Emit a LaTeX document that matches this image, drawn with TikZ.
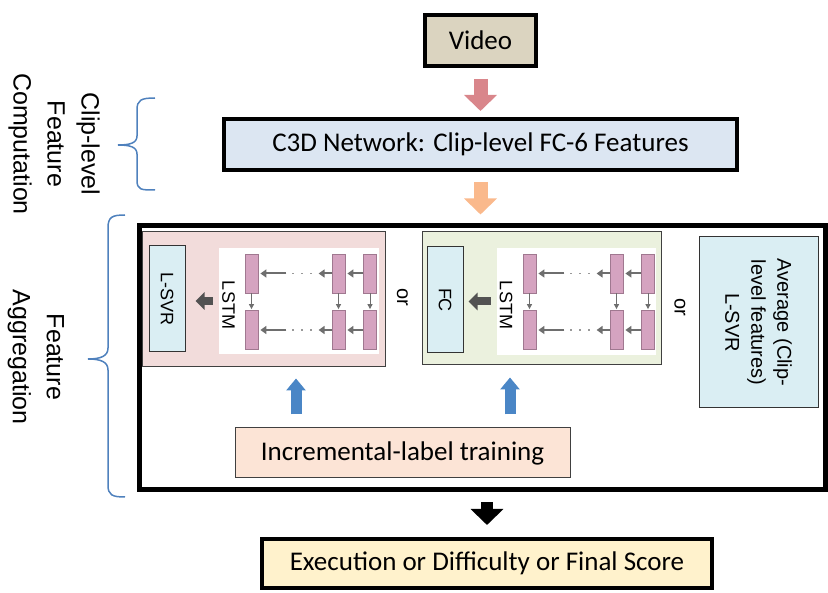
\documentclass[tikz,border=0pt]{standalone}
\usepackage{fontspec}
\setmainfont{Carlito}
\newfontfamily\arialf{Liberation Sans}
\usetikzlibrary{arrows.meta,calc}

\definecolor{videocol}{HTML}{DBD4C0}
\definecolor{c3dcol}{HTML}{DCE6F2}
\definecolor{pinkarrowcol}{HTML}{D9868B}
\definecolor{orangearrowcol}{HTML}{FAB98C}
\definecolor{pinkpanelcol}{HTML}{F2DCDB}
\definecolor{greenpanelcol}{HTML}{EBF1DE}
\definecolor{clfcol}{HTML}{DAEEF3}
\definecolor{inccol}{HTML}{FCE4D6}
\definecolor{finalcol}{HTML}{FFF2CC}
\definecolor{bluearrowcol}{HTML}{4A86C6}
\definecolor{bracecol}{HTML}{4F81BD}
\definecolor{cellcol}{HTML}{D5A3C0}
\definecolor{celllinecol}{HTML}{A07890}
\definecolor{cellgraycol}{HTML}{6E6E6E}

% two-layer LSTM grid: #1 name prefix, #2 left edge of its white area
\newcommand\lstmgrid[2]{%
  \foreach \c/\dx in {1/32.5, 2/119.5, 3/151}{%
    \node[cell] (#1a\c) at (#2+\dx, 273.5) {};
    \node[cell] (#1b\c) at (#2+\dx, 330) {};
    \draw[cellvarrow] (#1a\c.south) -- (#1b\c.north);
  }%
  \foreach \r in {a,b}{%
    \draw[cellarrow] (#1\r3.west) -- (#1\r2.east);
    \draw[cellarrow] (#1\r2.west) -- ++(-15,0);
    \draw[celldots] ($(#1\r2.west)+(-20,0)$) -- ($(#1\r1.east)+(31,0)$);
    \draw[cellarrow] ($(#1\r1.east)+(28,0)$) -- (#1\r1.east);
  }%
}

\begin{document}
\begin{tikzpicture}[x=1pt,y=-1pt,
  thickbox/.style={draw=black, line width=4, inner sep=0, font=\fontsize{27}{32}\selectfont},
  thinbox/.style={draw=black!75, line width=1, inner sep=0},
  clf/.style={draw=black!80, line width=1, fill=clfcol, inner sep=0, rotate=-90,
    font=\arialf\fontsize{18}{21}\selectfont},
  cell/.style={draw=celllinecol, fill=cellcol, line width=0.8, minimum width=13,
    minimum height=39, inner sep=0},
  cellarrow/.style={draw=cellgraycol, line width=2, shorten >=2,
    -{Triangle[width=8,length=6]}},
  cellvarrow/.style={draw=cellgraycol, line width=1, shorten >=1,
    -{Triangle[width=5,length=5]}},
  celldots/.style={draw=cellgraycol!70, line width=1.6, dash pattern=on 1.6 off 7.4},
  lstmlab/.style={rotate=-90, inner sep=0, font=\arialf\fontsize{18}{21}\selectfont},
  orlab/.style={rotate=-90, inner sep=0, font=\arialf\fontsize{20}{23}\selectfont},
  sidelab/.style={rotate=-90, inner sep=0, align=center,
    font=\arialf\fontsize{25}{34}\selectfont},
  fatarrow/.style={draw=#1, line width=14, -{Triangle[width=32,length=16]}},
  grayarrow/.style={draw=black!68, line width=8, -{Triangle[width=17,length=9]}},
  upblue/.style={draw=bluearrowcol, line width=11, -{Triangle[width=19,length=12]}},
  bracestyle/.style={draw=bracecol, line width=1.5}
]
\useasboundingbox (0,0) rectangle (828,593);

% main pipeline boxes
\node[thickbox, fill=videocol, minimum width=111, minimum height=51] (video) at (480.5,40.5) {Video};
\node[thickbox, fill=c3dcol, minimum width=513, minimum height=51] (c3d) at (480.5,144.5)
  {C3D Network: Clip-level FC-6 Features};
\node[draw=black, line width=5, minimum width=686, minimum height=264, inner sep=0] (agg)
  at (482.5,357.5) {};
\node[thickbox, fill=finalcol, minimum width=450, minimum height=49] (final) at (487,563.5)
  {Execution or Difficulty or Final Score};

% LSTM + L-SVR panel
\node[thinbox, fill=pinkpanelcol, minimum width=243, minimum height=135] (pp) at (263.5,299.5) {};
\node[fill=white, minimum width=160, minimum height=106, inner sep=0] (w1) at (299,301) {};
\node[clf, minimum width=106, minimum height=36] (lsvr) at (167,299) {L-SVR};
\node[lstmlab] (t1) at (228.5,305) {LSTM};
\lstmgrid{p}{219}

% LSTM + FC panel
\node[thinbox, fill=greenpanelcol, minimum width=239, minimum height=133] (gp) at (541.5,298.5) {};
\node[fill=white, minimum width=159, minimum height=107, inner sep=0] (w2) at (576.5,301.5) {};
\node[clf, minimum width=106, minimum height=36] (fc) at (445,300) {FC};
\node[lstmlab] (t2) at (506,305) {LSTM};
\lstmgrid{g}{497}

% averaging alternative
\node[clf, align=center, minimum width=171, minimum height=119,
  font=\arialf\fontsize{20}{26}\selectfont] (avg) at (758.5,322.5)
  {Average (Clip-\\level features)\\L-SVR};

\node[orlab] (or1) at (402.5,297) {or};
\node[orlab] (or2) at (680,307) {or};

% training box
\node[thinbox, fill=inccol, minimum width=335, minimum height=50,
  font=\fontsize{27}{32}\selectfont] (inc) at (402.5,453) {Incremental-label training};

% block arrows
\draw[fatarrow=pinkarrowcol, shorten <=11, shorten >=6] (video.south) -- (c3d.north);
\draw[fatarrow=orangearrowcol, shorten <=10, shorten >=8.5] (c3d.south) -- (agg.north -| c3d.south);
\draw[fatarrow=black, line width=12, shorten <=10.5, shorten >=12] (agg.south -| final.north) -- (final.north);
\draw[grayarrow, shorten <=6, shorten >=10] (w1.west) -- (w1.west -| lsvr.north);
\draw[grayarrow, shorten <=6, shorten >=5] (w2.west) -- (w2.west -| fc.north);
\coordinate (bx1) at (296,0);
\coordinate (bx2) at (510,0);
\draw[upblue, shorten <=13, shorten >=11] (inc.north -| bx1) -- (pp.south -| bx1);
\draw[upblue, shorten <=13, shorten >=12] (inc.north -| bx2) -- (gp.south -| bx2);

% side braces and labels
\draw[bracestyle] (155,98) .. controls (141,98) and (137,100) .. (137,110) -- (137,136)
  .. controls (137,143) and (130,145) .. (118,145)
  .. controls (130,145) and (137,147) .. (137,154) -- (137,180)
  .. controls (137,190) and (141,190) .. (155,190);
\draw[bracestyle] (125,215) .. controls (112,215) and (108,217) .. (108,228) -- (108,348)
  .. controls (108,356) and (101,359) .. (88,359)
  .. controls (101,359) and (108,362) .. (108,370) -- (108,485)
  .. controls (108,495) and (112,497) .. (125,497);
\node[sidelab] (lab1) at (54,144) {Clip-level\\Feature\\Computation};
\node[sidelab] (lab2) at (36,357) {Feature\\Aggregation};
\end{tikzpicture}
\end{document}
